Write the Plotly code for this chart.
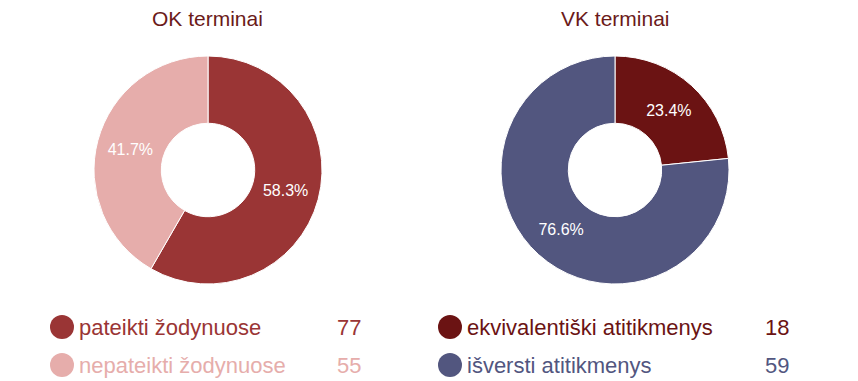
import plotly.graph_objects as go

W, H = 858, 381

ok_title = "OK terminai"
ok_labels = ["pateikti žodynuose", "nepateikti žodynuose"]
ok_values = [77, 55]
ok_colors = ["#9a3535", "#e6adab"]

vk_title = "VK terminai"
vk_labels = ["ekvivalentiški atitikmenys", "išversti atitikmenys"]
vk_values = [18, 59]
vk_colors = ["#6b1313", "#52567f"]

title_color = "#6b1a1a"
FONT = "Liberation Sans, Arial, sans-serif"

def px(x):
    return x / W

def py(y):
    return 1 - y / H

fig = go.Figure()

for labels, values, colors, (x0, x1) in [
    (ok_labels, ok_values, ok_colors, (94, 322)),
    (vk_labels, vk_values, vk_colors, (501, 729)),
]:
    fig.add_trace(go.Pie(
        labels=labels, values=values, hole=0.41, sort=False,
        direction="clockwise", rotation=0,
        marker=dict(colors=colors, line=dict(color="#ffffff", width=1)),
        texttemplate="%{percent:.1%}", textposition="inside",
        insidetextfont=dict(color="#ffffff", size=16, family=FONT),
        insidetextorientation="horizontal",
        domain=dict(x=[px(x0), px(x1)], y=[py(284), py(56)]),
        showlegend=False, hoverinfo="label+value+percent",
    ))

annotations = []
shapes = []
for title, cx in [(ok_title, 207), (vk_title, 615)]:
    annotations.append(dict(
        x=px(cx), y=py(18), xref="paper", yref="paper", text=title,
        showarrow=False, xanchor="center", yanchor="middle",
        font=dict(size=21, color=title_color, family=FONT)))

legend_rows = [
    (ok_labels, ok_values, ok_colors, 62, 77, 363),
    (vk_labels, vk_values, vk_colors, 450, 465, 791),
]
row_y = [327, 365]
for labels, values, colors, cx, tx, vx in legend_rows:
    for lab, val, col, yy in zip(labels, values, colors, row_y):
        r = 12
        shapes.append(dict(type="circle", xref="paper", yref="paper",
                           x0=px(cx - r), x1=px(cx + r), y0=py(yy + r), y1=py(yy - r),
                           fillcolor=col, line=dict(width=0)))
        annotations.append(dict(
            x=px(tx), y=py(yy), xref="paper", yref="paper", text=lab,
            showarrow=False, xanchor="left", yanchor="middle",
            font=dict(size=22, color=col, family=FONT)))
        annotations.append(dict(
            x=px(vx), y=py(yy), xref="paper", yref="paper", text=str(val),
            showarrow=False, xanchor="right", yanchor="middle",
            font=dict(size=22, color=col, family=FONT)))

fig.update_layout(
    width=W, height=H, margin=dict(l=0, r=0, t=0, b=0),
    paper_bgcolor="#ffffff", plot_bgcolor="#ffffff",
    annotations=annotations, shapes=shapes,
    font=dict(family=FONT),
)

fig.write_html("out.html", config={"displayModeBar": False},
               post_script="document.body.style.margin='0';document.body.style.overflow='hidden';")
